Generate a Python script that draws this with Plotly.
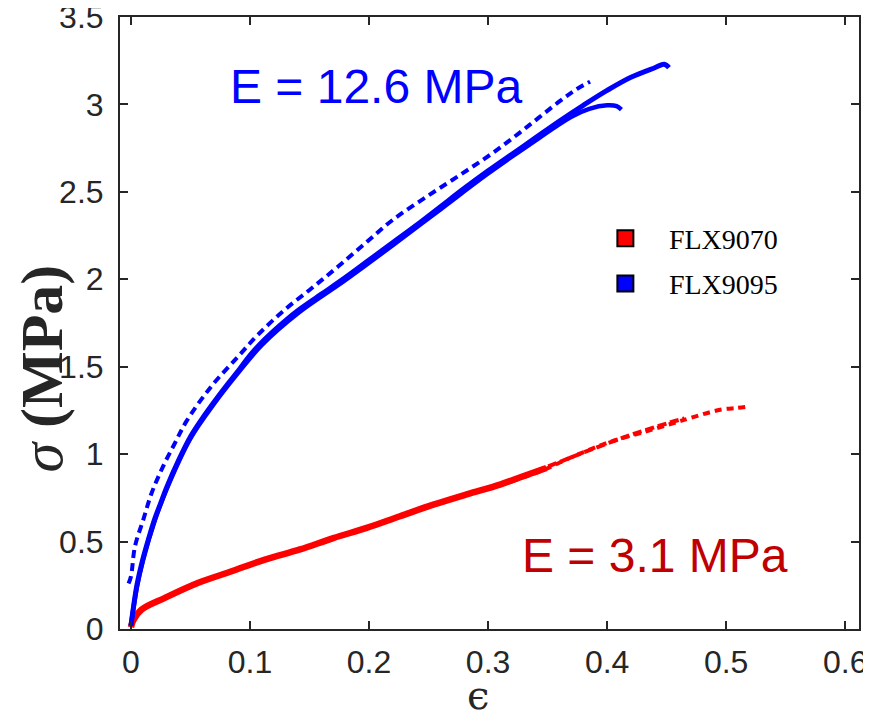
import plotly.graph_objects as go

# FLX9095 (blue) - solid bundle of tests
blue_strain = [0.0, 0.001, 0.005, 0.01, 0.015, 0.02, 0.025, 0.03, 0.04, 0.05, 0.06, 0.07,
               0.08, 0.09, 0.10, 0.11, 0.12, 0.13, 0.14, 0.16, 0.18, 0.20, 0.22, 0.24,
               0.26, 0.28, 0.30, 0.32, 0.34, 0.36, 0.38, 0.40, 0.42, 0.44, 0.448, 0.452]
blue_stress = [0.02, 0.07, 0.25, 0.40, 0.52, 0.63, 0.72, 0.81, 0.965, 1.10, 1.205, 1.30,
               1.39, 1.475, 1.565, 1.64, 1.705, 1.765, 1.82, 1.915, 2.01, 2.11, 2.21, 2.31,
               2.415, 2.52, 2.62, 2.715, 2.81, 2.905, 2.995, 3.08, 3.155, 3.21, 3.23, 3.21]

# second solid test that peels off near the end
blue2_strain = [0.0, 0.005, 0.01, 0.02, 0.03, 0.05, 0.07, 0.09, 0.11, 0.14, 0.18, 0.22,
                0.26, 0.30, 0.34, 0.37, 0.385, 0.40, 0.408, 0.412]
blue2_stress = [0.02, 0.24, 0.39, 0.62, 0.80, 1.09, 1.29, 1.465, 1.625, 1.805, 1.995, 2.195,
                2.40, 2.605, 2.795, 2.93, 2.975, 2.995, 2.99, 2.97]

# dashed test
blue_d_strain = [-0.002, 0.0, 0.0034, 0.0104, 0.0174, 0.027, 0.037, 0.0468, 0.0678, 0.0902,
                 0.107, 0.129, 0.152, 0.174, 0.197, 0.22, 0.2485, 0.2765, 0.3045, 0.3325,
                 0.3605, 0.375, 0.3857]
blue_d_stress = [0.26, 0.30, 0.473, 0.626, 0.778, 0.93, 1.064, 1.19, 1.39, 1.56,
                 1.685, 1.825, 1.95, 2.073, 2.207, 2.34, 2.473, 2.597, 2.725, 2.87,
                 3.02, 3.09, 3.13]

# FLX9070 (red)
red_strain = [0.0, 0.002, 0.009, 0.0286, 0.0566, 0.0846, 0.1126, 0.142, 0.17, 0.198,
              0.226, 0.254, 0.282, 0.31, 0.33, 0.349]
red_stress = [0.01, 0.05, 0.111, 0.178, 0.264, 0.33, 0.397, 0.455, 0.52, 0.578,
              0.645, 0.711, 0.77, 0.826, 0.875, 0.921]

red_d_strain = [0.30, 0.3437, 0.3717, 0.40, 0.428, 0.456, 0.47, 0.495, 0.509, 0.516]
red_d_stress = [0.80, 0.902, 0.987, 1.064, 1.121, 1.178, 1.207, 1.254, 1.264, 1.27]

red_d2_strain = [0.33, 0.36, 0.39, 0.42, 0.45, 0.465]
red_d2_stress = [0.875, 0.955, 1.035, 1.11, 1.175, 1.205]

legend_names = ["FLX9070", "FLX9095"]
legend_colors = ["#FF0000", "#0000FF"]

BLUE = "#0000FF"
RED = "#FF0000"
AXC = "#262626"

fig = go.Figure()

fig.add_trace(go.Scatter(x=red_strain, y=red_stress, mode="lines",
                         line=dict(color=RED, width=6.5, shape="spline"), showlegend=False))
fig.add_trace(go.Scatter(x=red_d_strain, y=red_d_stress, mode="lines",
                         line=dict(color=RED, width=4, dash="7px,5px", shape="spline"),
                         showlegend=False))
fig.add_trace(go.Scatter(x=red_d2_strain, y=red_d2_stress, mode="lines",
                         line=dict(color=RED, width=4, dash="9px,4px", shape="spline"),
                         showlegend=False))
fig.add_trace(go.Scatter(x=blue_d_strain, y=blue_d_stress, mode="lines",
                         line=dict(color=BLUE, width=4, dash="8px,5px", shape="spline"),
                         showlegend=False))
fig.add_trace(go.Scatter(x=blue2_strain, y=blue2_stress, mode="lines",
                         line=dict(color=BLUE, width=4.5, shape="spline"), showlegend=False))
fig.add_trace(go.Scatter(x=blue_strain, y=blue_stress, mode="lines",
                         line=dict(color=BLUE, width=5, shape="spline"), showlegend=False))

for name, col in zip(legend_names, legend_colors):
    fig.add_trace(go.Scatter(x=[None], y=[None], mode="markers", name=name,
                             legendgroup=name,
                             marker=dict(symbol="square", size=16, color=col,
                                         line=dict(color="black", width=2))))

fig.add_annotation(x=0.206, y=3.10, xref="x", yref="y", text="E = 12.6 MPa",
                   showarrow=False, font=dict(family="Liberation Sans", size=48, color=BLUE))
fig.add_annotation(x=0.44, y=0.42, xref="x", yref="y", text="E = 3.1 MPa",
                   showarrow=False, font=dict(family="Liberation Sans", size=48, color="#C00000"))
# axis titles
fig.add_annotation(x=-0.106, y=0.425, xref="paper", yref="paper", xanchor="center",
                   yanchor="middle", text="<i>σ</i> <b>(MPa)</b>", textangle=-90,
                   showarrow=False,
                   font=dict(family="Liberation Serif", size=60, color=AXC))
fig.add_annotation(x=0.484, y=-0.108, xref="paper", yref="paper", xanchor="center",
                   yanchor="middle", text="ϵ", showarrow=False,
                   font=dict(family="DejaVu Serif", size=40, color=AXC))

axis_common = dict(showline=True, mirror="ticks", linecolor=AXC, linewidth=2,
                   ticks="inside", ticklen=8, tickwidth=2, tickcolor=AXC,
                   showgrid=False, zeroline=False, automargin=False,
                   ticklabeloverflow="allow",
                   tickfont=dict(family="Liberation Sans", size=32, color=AXC))

# the page body adds an 8px offset, so the figure is 8px smaller than the window
fig.update_layout(
    width=863, height=717,
    margin=dict(l=112, r=12, t=9, b=96),
    paper_bgcolor="white", plot_bgcolor="white",
    xaxis=dict(range=[-0.0092, 0.6116], tick0=0, dtick=0.1, ticklabelstandoff=4,
               **axis_common),
    yaxis=dict(range=[0, 3.5], tick0=0, dtick=0.5, ticklabelstandoff=8, **axis_common),
    legend=dict(x=0.625, y=0.679, xanchor="left", yanchor="top", bgcolor="rgba(0,0,0,0)",
                font=dict(family="Liberation Serif", size=28, color="black"),
                tracegroupgap=6, itemwidth=77),
    showlegend=True,
)

fig.write_html("out.html")
